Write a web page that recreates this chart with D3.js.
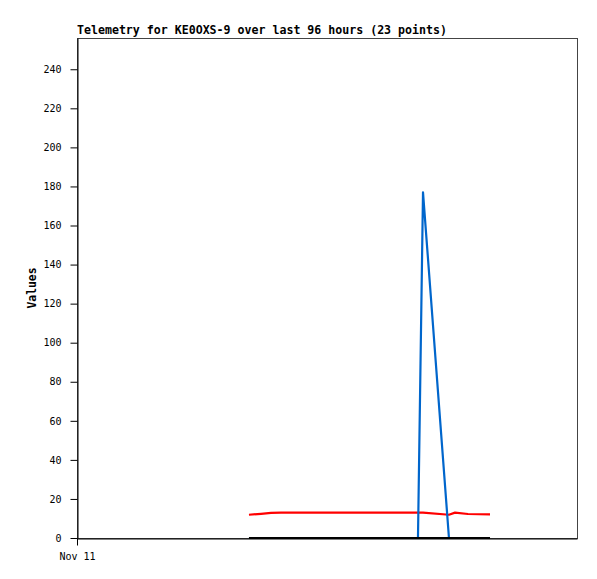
<!DOCTYPE html>
<html>
<head>
<meta charset="utf-8">
<script src="https://cdn.jsdelivr.net/npm/d3@7"></script>
<style>
  body { margin: 0; background: #fff; }
  text { font-family: "DejaVu Sans Mono", monospace; }
</style>
</head>
<body>
<div id="chart"></div>
<script>
// sample times (month-day hour:min)
let times = ["11-12 09:01", "11-12 11:20", "11-12 13:15", "11-12 15:10", "11-12 17:05",
  "11-12 19:00", "11-12 20:56", "11-12 22:51", "11-13 00:46", "11-13 02:41",
  "11-13 04:36", "11-13 06:32", "11-13 08:27", "11-13 10:22", "11-13 12:17",
  "11-13 14:12", "11-13 16:08", "11-13 17:28", "11-13 18:26", "11-13 23:25",
  "11-14 00:35", "11-14 03:04", "11-14 07:18"]

let redValues = [11.9, 12.4, 12.9, 13.0, 13.0, 13.0, 13.0, 13.0, 13.0, 13.0,
  13.0, 13.0, 13.0, 13.0, 13.0, 13.0, 13.0, 13.0, 13.0, 11.9,
  13.0, 12.3, 12.1]
let blueValues = [0, 0, 0, 0, 0, 0, 0, 0, 0, 0,
  0, 0, 0, 0, 0, 0, 0, 0, 177, 0,
  0, 0, 0]
let blackValues = [0, 0, 0, 0, 0, 0, 0, 0, 0, 0,
  0, 0, 0, 0, 0, 0, 0, 0, 0, 0,
  0, 0, 0]

let yTicks = [0, 20, 40, 60, 80, 100, 120, 140, 160, 180, 200, 220, 240]
let xStart = "11-11 00:00", xEnd = "11-15 00:00"

let width = 597
    height = 579
    margin = {top: 38, right: 20, bottom: 41, left: 77}

let parse = d3.timeParse("%m-%d %H:%M")

let svg = d3.select("#chart")
  .append("svg")
  .attr("width", width)
  .attr("height", height)

let x = d3.scaleTime()
  .domain([parse(xStart), parse(xEnd)])
  .range([margin.left, width - margin.right])

let y = d3.scaleLinear()
  .domain([0, 256])
  .range([height - margin.bottom, margin.top])

// frame
svg.append("rect")
  .attr("x", margin.left + 0.5)
  .attr("y", margin.top + 0.5)
  .attr("width", width - margin.left - margin.right)
  .attr("height", height - margin.top - margin.bottom)
  .attr("fill", "none")
  .attr("stroke", "#444")

// y axis
let yAxis = svg.append("g")
  .attr("transform", "translate(" + (margin.left + 0.5) + ",0)")
  .call(d3.axisLeft(y).tickValues(yTicks).tickSize(7).tickSizeOuter(0).tickPadding(9))
yAxis.select(".domain").attr("stroke", "#000")
yAxis.selectAll("text").style("font-size", "10px").attr("fill", "#000")

// x axis
let xAxis = svg.append("g")
  .attr("transform", "translate(0," + (height - margin.bottom + 0.5) + ")")
  .call(d3.axisBottom(x).tickValues([parse(xStart)]).tickFormat(d3.timeFormat("%b %d"))
    .tickSize(7).tickSizeOuter(0).tickPadding(7))
xAxis.select(".domain").attr("stroke", "#000")
xAxis.selectAll("text").style("font-size", "10px").attr("fill", "#000")

let pts = times.map(parse)

let line = d3.line()
  .x((d, i) => x(pts[i]))
  .y(d => y(d))

let series = [
  {vals: redValues, color: "#ff0000"},
  {vals: blueValues, color: "#0066cc"},
  {vals: blackValues, color: "#000000"}
]

series.forEach(s => {
  svg.append("path")
    .datum(s.vals)
    .attr("d", line)
    .attr("fill", "none")
    .attr("stroke", s.color)
    .attr("stroke-width", 2.2)
    .attr("stroke-linejoin", "round")
})

// title
svg.append("text")
  .attr("x", margin.left)
  .attr("y", 34)
  .style("font-size", "11.6px")
  .style("font-weight", "bold")
  .text("Telemetry for KE0OXS-9 over last 96 hours (23 points)")

// y label
svg.append("text")
  .attr("transform", "translate(36,288) rotate(-90)")
  .attr("text-anchor", "middle")
  .style("font-size", "11.4px")
  .style("font-weight", "bold")
  .text("Values")
</script>
</body>
</html>
